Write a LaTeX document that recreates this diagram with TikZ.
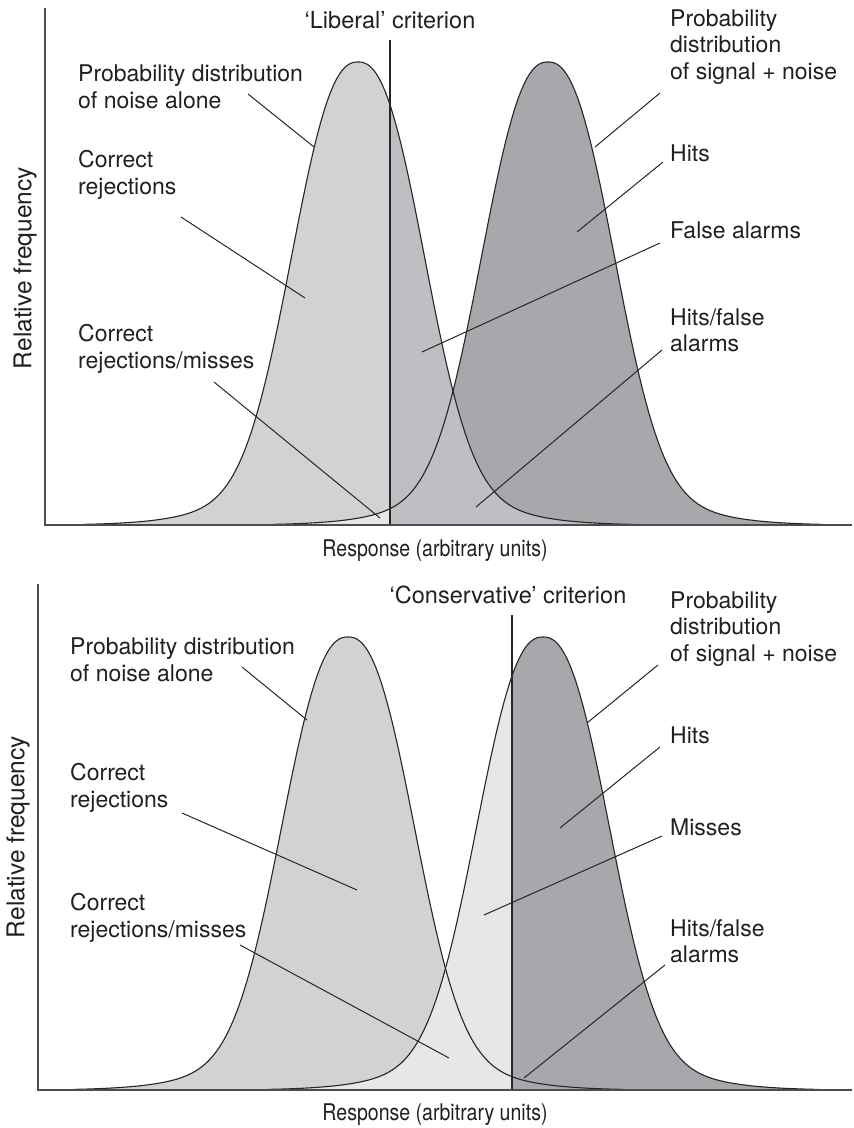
\documentclass[tikz,border=0pt]{standalone}
\usepackage{graphicx}
\usepackage{fontspec}
\setmainfont{TeX Gyre Heros}
\definecolor{inkgray}{HTML}{231F20}
\definecolor{missfill}{HTML}{E6E7E9}
\definecolor{noisefill}{HTML}{D1D2D4}
\definecolor{fafill}{HTML}{BEBFC2}
\definecolor{hitfill}{HTML}{A7A8AB}
\tikzset{
  curve/.style={draw=black!85, line width=1.1pt},
  axisline/.style={draw=black!70, line width=1.6pt},
  critline/.style={draw=black!85, line width=1.2pt},
  pointer/.style={draw=black!85, line width=1pt},
  lbl/.style={text=inkgray, font=\fontsize{23}{26.5}\selectfont, align=left, anchor=west, inner sep=0pt},
  axlbl/.style={text=inkgray, font=\fontsize{23.5}{27}\selectfont, inner sep=0pt},
  freqlbl/.style={text=inkgray, font=\fontsize{24.5}{28}\selectfont, inner sep=0pt, rotate=90},
  unitlbl/.style={text=inkgray, font=\fontsize{23}{27}\selectfont, inner sep=0pt},
}
% condensed setting of the response-axis caption
\newcommand\narrowtext[1]{\scalebox{0.85}[1]{#1}}
\begin{document}
\begin{tikzpicture}[x=1pt, y=-1pt,
  declare function={bell(\d)=0.88*exp(-0.5*((abs(\d)+0.001)/62)^2.4)+0.12*exp(-0.5*(\d/92)^2);}]
\useasboundingbox (0,0) rectangle (854,1128);

% ---------------- upper panel: liberal criterion ----------------
\begin{scope}
  \clip (45,0) rectangle (390,525);
  \fill[noisefill] (83,525) -- plot[domain=83:633,samples=181] (\x,{525-463*bell(\x-358)}) -- (633,525) -- cycle;
  \fill[missfill] (273,525) -- plot[domain=273:823,samples=181] (\x,{525-463*bell(\x-548)}) -- (823,525) -- cycle;
\end{scope}
\begin{scope}
  \clip (390,0) rectangle (854,525);
  \fill[hitfill] (273,525) -- plot[domain=273:823,samples=181] (\x,{525-463*bell(\x-548)}) -- (823,525) -- cycle;
  \fill[fafill] (83,525) -- plot[domain=83:633,samples=181] (\x,{525-463*bell(\x-358)}) -- (633,525) -- cycle;
\end{scope}
\draw[curve] plot[domain=83:633,samples=181] (\x,{525-463*bell(\x-358)});
\draw[curve] plot[domain=273:823,samples=181] (\x,{525-463*bell(\x-548)});

\coordinate (critTtop) at (390,40);
\coordinate (critTbot) at (390,525);
\draw[critline] (critTtop) -- (critTbot);
\coordinate (yTtop) at (45,8);
\coordinate (oT) at (45,525);
\coordinate (xTend) at (852,525);
\draw[axisline] (yTtop) -- (oT) -- (xTend);

\node[axlbl] (critT) at (390,20) {‘Liberal’ criterion};
\node[freqlbl] (yT) at (25,268) {Relative frequency};
\node[unitlbl] (xT) at (435,551) {\narrowtext{Response (arbitrary units)}};

\node[lbl] (noiseT) at (78,87) {Probability distribution\\of noise alone};
\node[lbl] (crT) at (78,175) {Correct\\rejections};
\node[lbl] (crmT) at (78,349) {Correct\\rejections/misses};
\node[lbl] (sigT) at (670,47) {Probability\\distribution\\of signal + noise};
\node[lbl] (hitsT) at (670,153) {Hits};
\node[lbl] (faT) at (670,230) {False alarms};
\node[lbl] (hfT) at (670,330) {Hits/false\\alarms};

\coordinate (noiseTa) at (248,94);  \coordinate (noiseTb) at (314,147);
\coordinate (crTa) at (181,217);    \coordinate (crTb) at (305,298);
\coordinate (crmTa) at (214,382);   \coordinate (crmTb) at (380,518);
\coordinate (sigTa) at (660,93);    \coordinate (sigTb) at (595,147);
\coordinate (hitsTa) at (663,162);  \coordinate (hitsTb) at (577,232);
\coordinate (faTa) at (660,243);    \coordinate (faTb) at (422,352);
\coordinate (hfTa) at (662,350);    \coordinate (hfTb) at (476,507);
\foreach \p in {noiseT,crT,crmT,sigT,hitsT,faT,hfT}
  \draw[pointer] (\p a) -- (\p b);

% ---------------- lower panel: conservative criterion ----------------
\begin{scope}
  \fill[noisefill] (73,1090) -- plot[domain=73:623,samples=181] (\x,{1090-453*bell(\x-348)}) -- (623,1090) -- cycle;
  \clip (38,500) rectangle (512,1090);
  \fill[missfill] (268,1090) -- plot[domain=268:818,samples=181] (\x,{1090-453*bell(\x-543)}) -- (818,1090) -- cycle;
\end{scope}
\begin{scope}
  \clip (512,500) rectangle (854,1090);
  \fill[hitfill] (268,1090) -- plot[domain=268:818,samples=181] (\x,{1090-453*bell(\x-543)}) -- (818,1090) -- cycle;
\end{scope}
\draw[curve] plot[domain=73:623,samples=181] (\x,{1090-453*bell(\x-348)});
\draw[curve] plot[domain=268:818,samples=181] (\x,{1090-453*bell(\x-543)});

\coordinate (critBtop) at (512,615);
\coordinate (critBbot) at (512,1090);
\draw[critline] (critBtop) -- (critBbot);
\coordinate (yBtop) at (38,584);
\coordinate (oB) at (38,1090);
\coordinate (xBend) at (852,1090);
\draw[axisline] (yBtop) -- (oB) -- (xBend);

\node[axlbl] (critB) at (508,595) {‘Conservative’ criterion};
\node[freqlbl] (yB) at (18,837) {Relative frequency};
\node[unitlbl] (xB) at (435,1115) {\narrowtext{Response (arbitrary units)}};

\node[lbl] (noiseB) at (70,660) {Probability distribution\\of noise alone};
\node[lbl] (crB) at (70,788) {Correct\\rejections};
\node[lbl] (crmB) at (70,918) {Correct\\rejections/misses};
\node[lbl] (sigB) at (670,629) {Probability\\distribution\\of signal + noise};
\node[lbl] (hitsB) at (670,735) {Hits};
\node[lbl] (missB) at (670,827) {Misses};
\node[lbl] (hfB) at (670,941) {Hits/false\\alarms};

\coordinate (noiseBa) at (242,667); \coordinate (noiseBb) at (307,720);
\coordinate (crBa) at (182,813);    \coordinate (crBb) at (357,890);
\coordinate (crmBa) at (240,945);   \coordinate (crmBb) at (449,1058);
\coordinate (sigBa) at (658,665);   \coordinate (sigBb) at (587,723);
\coordinate (hitsBa) at (660,747);  \coordinate (hitsBb) at (560,828);
\coordinate (missBa) at (662,836);  \coordinate (missBb) at (484,915);
\coordinate (hfBa) at (665,965);    \coordinate (hfBb) at (524,1078);
\foreach \p in {noiseB,crB,crmB,sigB,hitsB,missB,hfB}
  \draw[pointer] (\p a) -- (\p b);
\end{tikzpicture}
\end{document}
